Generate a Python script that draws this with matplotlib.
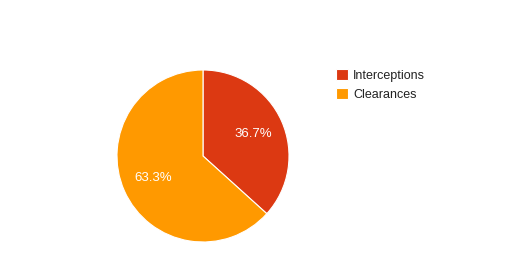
import matplotlib.pyplot as plt

labels = ['Interceptions', 'Clearances']
values = [36.7, 63.3]
colors = ['#DC3912', '#FF9900']

plt.rcParams['font.family'] = ['Liberation Sans', 'DejaVu Sans']

W, H = 527, 254
fig = plt.figure(figsize=(W / 100, H / 100), dpi=100)

# pie centre (203, 156), radius 86 px
cx, cy, r = 203, 156, 86
ax = fig.add_axes([(cx - r) / W, (H - cy - r) / H, 2 * r / W, 2 * r / H])

wedges, texts, autotexts = ax.pie(
    values, colors=colors, startangle=90, counterclock=False,
    autopct='%.1f%%', pctdistance=0.64,
    wedgeprops=dict(edgecolor='white', linewidth=0.8),
    textprops=dict(color='white', fontsize=9.5))
ax.set_aspect('equal')
ax.set_xlim(-1, 1)
ax.set_ylim(-1, 1)

fig.legend(wedges, labels, loc='upper left',
           bbox_to_anchor=(332 / W, 1 - 65 / H),
           frameon=False, fontsize=9, handlelength=1.0, handleheight=1.0,
           handletextpad=0.4, labelspacing=0.5, borderaxespad=0,
           borderpad=0.3, labelcolor='#222222')

fig.savefig('out.png', dpi=100)
